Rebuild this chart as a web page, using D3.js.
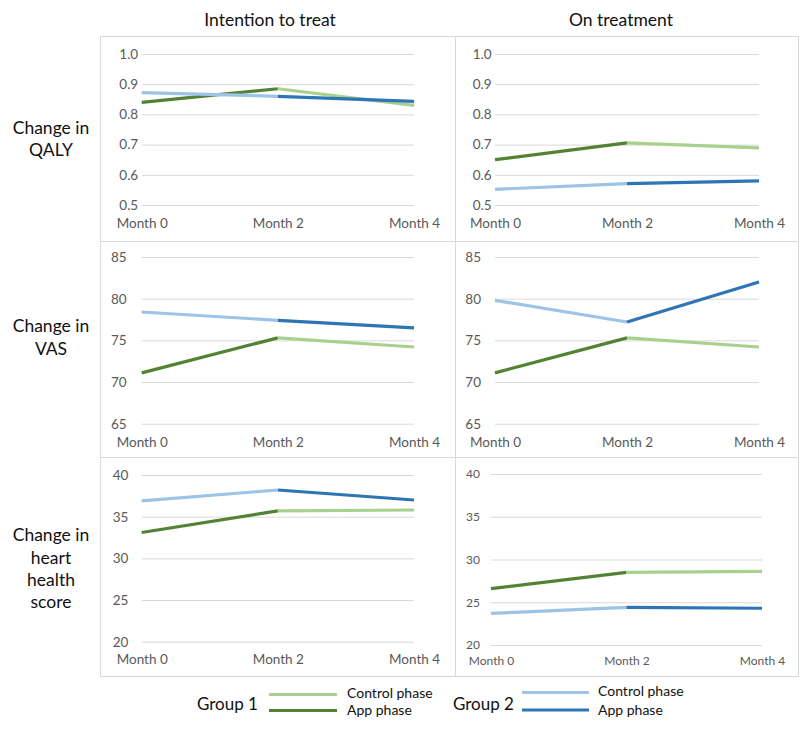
<!DOCTYPE html>
<html>
<head>
<meta charset="utf-8">
<script src="https://cdn.jsdelivr.net/npm/d3@7"></script>
<style>
  html, body { margin: 0; padding: 0; background: #fff; }
  svg { display: block; font-family: Lato, "Open Sans", sans-serif; }
</style>
</head>
<body>
<svg id="chart" width="800" height="730"></svg>
<script>
// ---------- DATA ----------
const months = ["Month 0", "Month 2", "Month 4"];
const columnTitles = ["Intention to treat", "On treatment"];
const rowLabels = [["Change in", "QALY"], ["Change in", "VAS"], ["Change in", "heart", "health", "score"]];
const groupNames = ["Group 1", "Group 2"];
const phaseNames = ["Control phase", "App phase"];

const qalyTicks = [0.5, 0.6, 0.7, 0.8, 0.9, 1.0];
const vasTicks = [65, 70, 75, 80, 85];
const heartTicks = [20, 25, 30, 35, 40];

// Group 1: App phase Month 0 -> 2, Control phase Month 2 -> 4
// Group 2: Control phase Month 0 -> 2, App phase Month 2 -> 4
const qalyITT_g1 = [0.84, 0.885, 0.83];
const qalyITT_g2 = [0.872, 0.86, 0.843];
const qalyOT_g1 = [0.65, 0.706, 0.689];
const qalyOT_g2 = [0.552, 0.571, 0.58];
const vasITT_g1 = [71.1, 75.3, 74.2];
const vasITT_g2 = [78.4, 77.4, 76.5];
const vasOT_g1 = [71.1, 75.3, 74.2];
const vasOT_g2 = [79.8, 77.2, 82.0];
const heartITT_g1 = [33.1, 35.7, 35.8];
const heartITT_g2 = [36.9, 38.2, 37.0];
const heartOT_g1 = [26.6, 28.5, 28.6];
const heartOT_g2 = [23.7, 24.4, 24.3];

// ---------- LAYOUT / STYLE ----------
const colors = {
  g1Control: "#a9d18e", g1App: "#548235",
  g2Control: "#9dc3e6", g2App: "#2e75b6"
};
const panels = [
  { g1: qalyITT_g1, g2: qalyITT_g2, ticks: qalyTicks, fmt: d3.format(".1f"), x: [141.7, 414], y: [205, 54], pad: 3.5, xl: 223, fs: 13.5 },
  { g1: qalyOT_g1, g2: qalyOT_g2, ticks: qalyTicks, fmt: d3.format(".1f"), x: [495, 759], y: [205, 54], pad: 3.5, xl: 223, fs: 13.5 },
  { g1: vasITT_g1, g2: vasITT_g2, ticks: vasTicks, fmt: d3.format("d"), x: [141.7, 414], y: [423.7, 257], pad: 15, xl: 442, fs: 13.5 },
  { g1: vasOT_g1, g2: vasOT_g2, ticks: vasTicks, fmt: d3.format("d"), x: [495, 759], y: [423.7, 257], pad: 14, xl: 442, fs: 13.5 },
  { g1: heartITT_g1, g2: heartITT_g2, ticks: heartTicks, fmt: d3.format("d"), x: [141.7, 414], y: [641.7, 475], pad: 13.4, xl: 659, fs: 13.5 },
  { g1: heartOT_g1, g2: heartOT_g2, ticks: heartTicks, fmt: d3.format("d"), x: [491, 762], y: [645, 474], pad: 11, xl: 661, fs: 12 }
];

const svg = d3.select("#chart");

// Panel borders
const border = "#d9d9d9";
svg.append("rect").attr("x", 100.5).attr("y", 36.5).attr("width", 698).attr("height", 640)
  .attr("fill", "none").attr("stroke", border);
[[455.5, 36.5, 455.5, 676.5], [100.5, 241.5, 798.5, 241.5], [100.5, 457.5, 798.5, 457.5]].forEach(l => {
  svg.append("line").attr("x1", l[0]).attr("y1", l[1]).attr("x2", l[2]).attr("y2", l[3]).attr("stroke", border);
});

// Column titles
const titleX = [270, 621];
columnTitles.forEach((t, i) => {
  svg.append("text").attr("x", titleX[i]).attr("y", 20).attr("dy", "0.35em")
    .attr("text-anchor", "middle").attr("font-size", 17.5).attr("fill", "#111").text(t);
});

// Row labels
const rowLabelY = [[128, 150], [326, 348.5], [534.5, 557.5, 579.5, 602]];
rowLabels.forEach((lines, r) => {
  lines.forEach((ln, k) => {
    svg.append("text").attr("x", 51).attr("y", rowLabelY[r][k]).attr("dy", "0.35em")
      .attr("text-anchor", "middle").attr("font-size", 17.5).attr("fill", "#111").text(ln);
  });
});

// Panels
panels.forEach(p => {
  const xs = d3.scalePoint().domain(months).range(p.x);
  const ys = d3.scaleLinear().domain(d3.extent(p.ticks)).range(p.y);
  const g = svg.append("g");

  const yAxis = d3.axisLeft(ys).tickValues(p.ticks).tickFormat(p.fmt)
    .tickSize(-(p.x[1] - p.x[0])).tickPadding(p.pad);
  const ya = g.append("g").attr("transform", `translate(${p.x[0]},0)`).call(yAxis);
  ya.select(".domain").remove();
  ya.selectAll("line").attr("stroke", "#d9d9d9");
  ya.selectAll("text").attr("fill", "#595959").attr("font-size", p.fs).attr("font-family", "Lato, sans-serif");

  const xAxis = d3.axisBottom(xs).tickSize(0).tickPadding(0);
  const xa = g.append("g").attr("transform", `translate(0,${p.xl})`).call(xAxis);
  xa.select(".domain").remove();
  xa.selectAll("text").attr("dy", "0.35em").attr("y", 0)
    .attr("fill", "#595959").attr("font-size", p.fs).attr("font-family", "Lato, sans-serif");

  const line = d3.line().x(d => xs(d.m)).y(d => ys(d.v));
  const seg = (vals, a, b) => [{ m: months[a], v: vals[a] }, { m: months[b], v: vals[b] }];
  const segs = [
    { d: seg(p.g1, 0, 1), c: colors.g1App },
    { d: seg(p.g1, 1, 2), c: colors.g1Control },
    { d: seg(p.g2, 0, 1), c: colors.g2Control },
    { d: seg(p.g2, 1, 2), c: colors.g2App }
  ];
  segs.forEach(s => {
    g.append("path").attr("d", line(s.d)).attr("fill", "none")
      .attr("stroke", s.c).attr("stroke-width", 3.2).attr("stroke-linecap", "butt");
  });
});

// Legend
const legend = [
  { name: groupNames[0], gx: 197, lx: [269, 337], tx: 347, ly: [694.5, 710.5], ty: [693, 710], c: [colors.g1Control, colors.g1App] },
  { name: groupNames[1], gx: 453, lx: [522, 589], tx: 598, ly: [692.5, 710], ty: [691, 710], c: [colors.g2Control, colors.g2App] }
];
legend.forEach(L => {
  svg.append("text").attr("x", L.gx).attr("y", 704).attr("dy", "0.35em")
    .attr("font-size", 17).attr("fill", "#111").text(L.name);
  phaseNames.forEach((ph, k) => {
    svg.append("line").attr("x1", L.lx[0]).attr("x2", L.lx[1]).attr("y1", L.ly[k]).attr("y2", L.ly[k])
      .attr("stroke", L.c[k]).attr("stroke-width", 3);
    svg.append("text").attr("x", L.tx).attr("y", L.ty[k]).attr("dy", "0.35em")
      .attr("font-size", 14).attr("fill", "#111").text(ph);
  });
});
</script>
</body>
</html>
